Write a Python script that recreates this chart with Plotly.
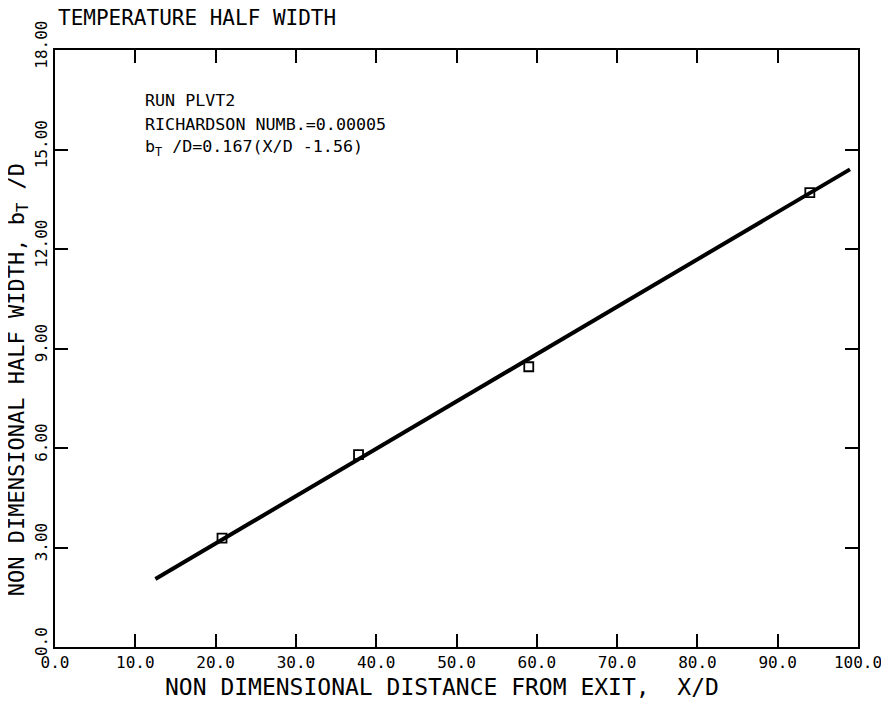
import plotly.graph_objects as go

# Data
x_points = [20.8, 37.8, 59.0, 94.0]
y_points = [3.28, 5.80, 8.45, 13.70]

fit_x = [12.5, 99.0]
fit_y = [2.05, 14.40]

x_ticks = [0, 10, 20, 30, 40, 50, 60, 70, 80, 90, 100]
x_ticktext = ["0.0", "10.0", "20.0", "30.0", "40.0", "50.0", "60.0", "70.0", "80.0", "90.0", "100.0"]
y_ticks = [0, 3, 6, 9, 12, 15, 18]
y_ticktext = ["0.0", "3.00", "6.00", "9.00", "12.00", "15.00", "18.00"]

info_lines = [
    "RUN PLVT2",
    "RICHARDSON NUMB.=0.00005",
    "b<sub>T</sub> /D=0.167(X/D -1.56)",
]

FONT = "DejaVu Sans Mono"

fig = go.Figure()
fig.add_trace(go.Scatter(x=fit_x, y=fit_y, mode="lines",
                         line=dict(color="black", width=4), showlegend=False))
fig.add_trace(go.Scatter(x=x_points, y=y_points, mode="markers",
                         marker=dict(symbol="square-open", size=9, color="black",
                                     line=dict(width=1.8, color="black")),
                         showlegend=False))

axis_common = dict(
    showgrid=False, zeroline=False, showline=True, linecolor="black", linewidth=2,
    mirror="ticks", ticks="inside", ticklen=13, tickwidth=2, tickcolor="black",
    tickfont=dict(family=FONT, size=16, color="black"), automargin=False,
)

fig.update_xaxes(range=[0, 100], tickvals=x_ticks, ticktext=x_ticktext, **axis_common)
fig.update_yaxes(range=[0, 18], tickvals=y_ticks, ticktext=y_ticktext, tickangle=-90,
                 ticklabelshift=-3, **axis_common)

annotations = [
    dict(text="TEMPERATURE HALF WIDTH", xref="paper", yref="paper", x=0, y=1,
         xanchor="left", yanchor="middle", xshift=1, yshift=32, showarrow=False,
         font=dict(family=FONT, size=21, color="black")),
    dict(text="NON DIMENSIONAL DISTANCE FROM EXIT,  X/D", xref="paper", yref="paper",
         x=0.482, y=0, xanchor="center", yanchor="top", yshift=-25, showarrow=False,
         font=dict(family=FONT, size=23, color="black")),
    dict(text="NON DIMENSIONAL HALF WIDTH, b<sub>T</sub> /D", xref="paper", yref="paper",
         x=0, y=0.447, xanchor="center", yanchor="middle", xshift=-37, textangle=-90,
         showarrow=False, font=dict(family=FONT, size=22, color="black")),
]
for line, yy in zip(info_lines, [16.5, 15.77, 15.05]):
    annotations.append(dict(text=line, x=11.0, y=yy, xref="x", yref="y",
                            xanchor="left", yanchor="middle", showarrow=False,
                            font=dict(family=FONT, size=16.7, color="black")))

# The page adds an 8px body margin, so the figure is sized to fit inside it.
fig.update_layout(
    width=881, height=698,
    margin=dict(l=47, r=31, t=42, b=59),
    plot_bgcolor="white", paper_bgcolor="white",
    annotations=annotations,
)

fig.write_html("out.html")
